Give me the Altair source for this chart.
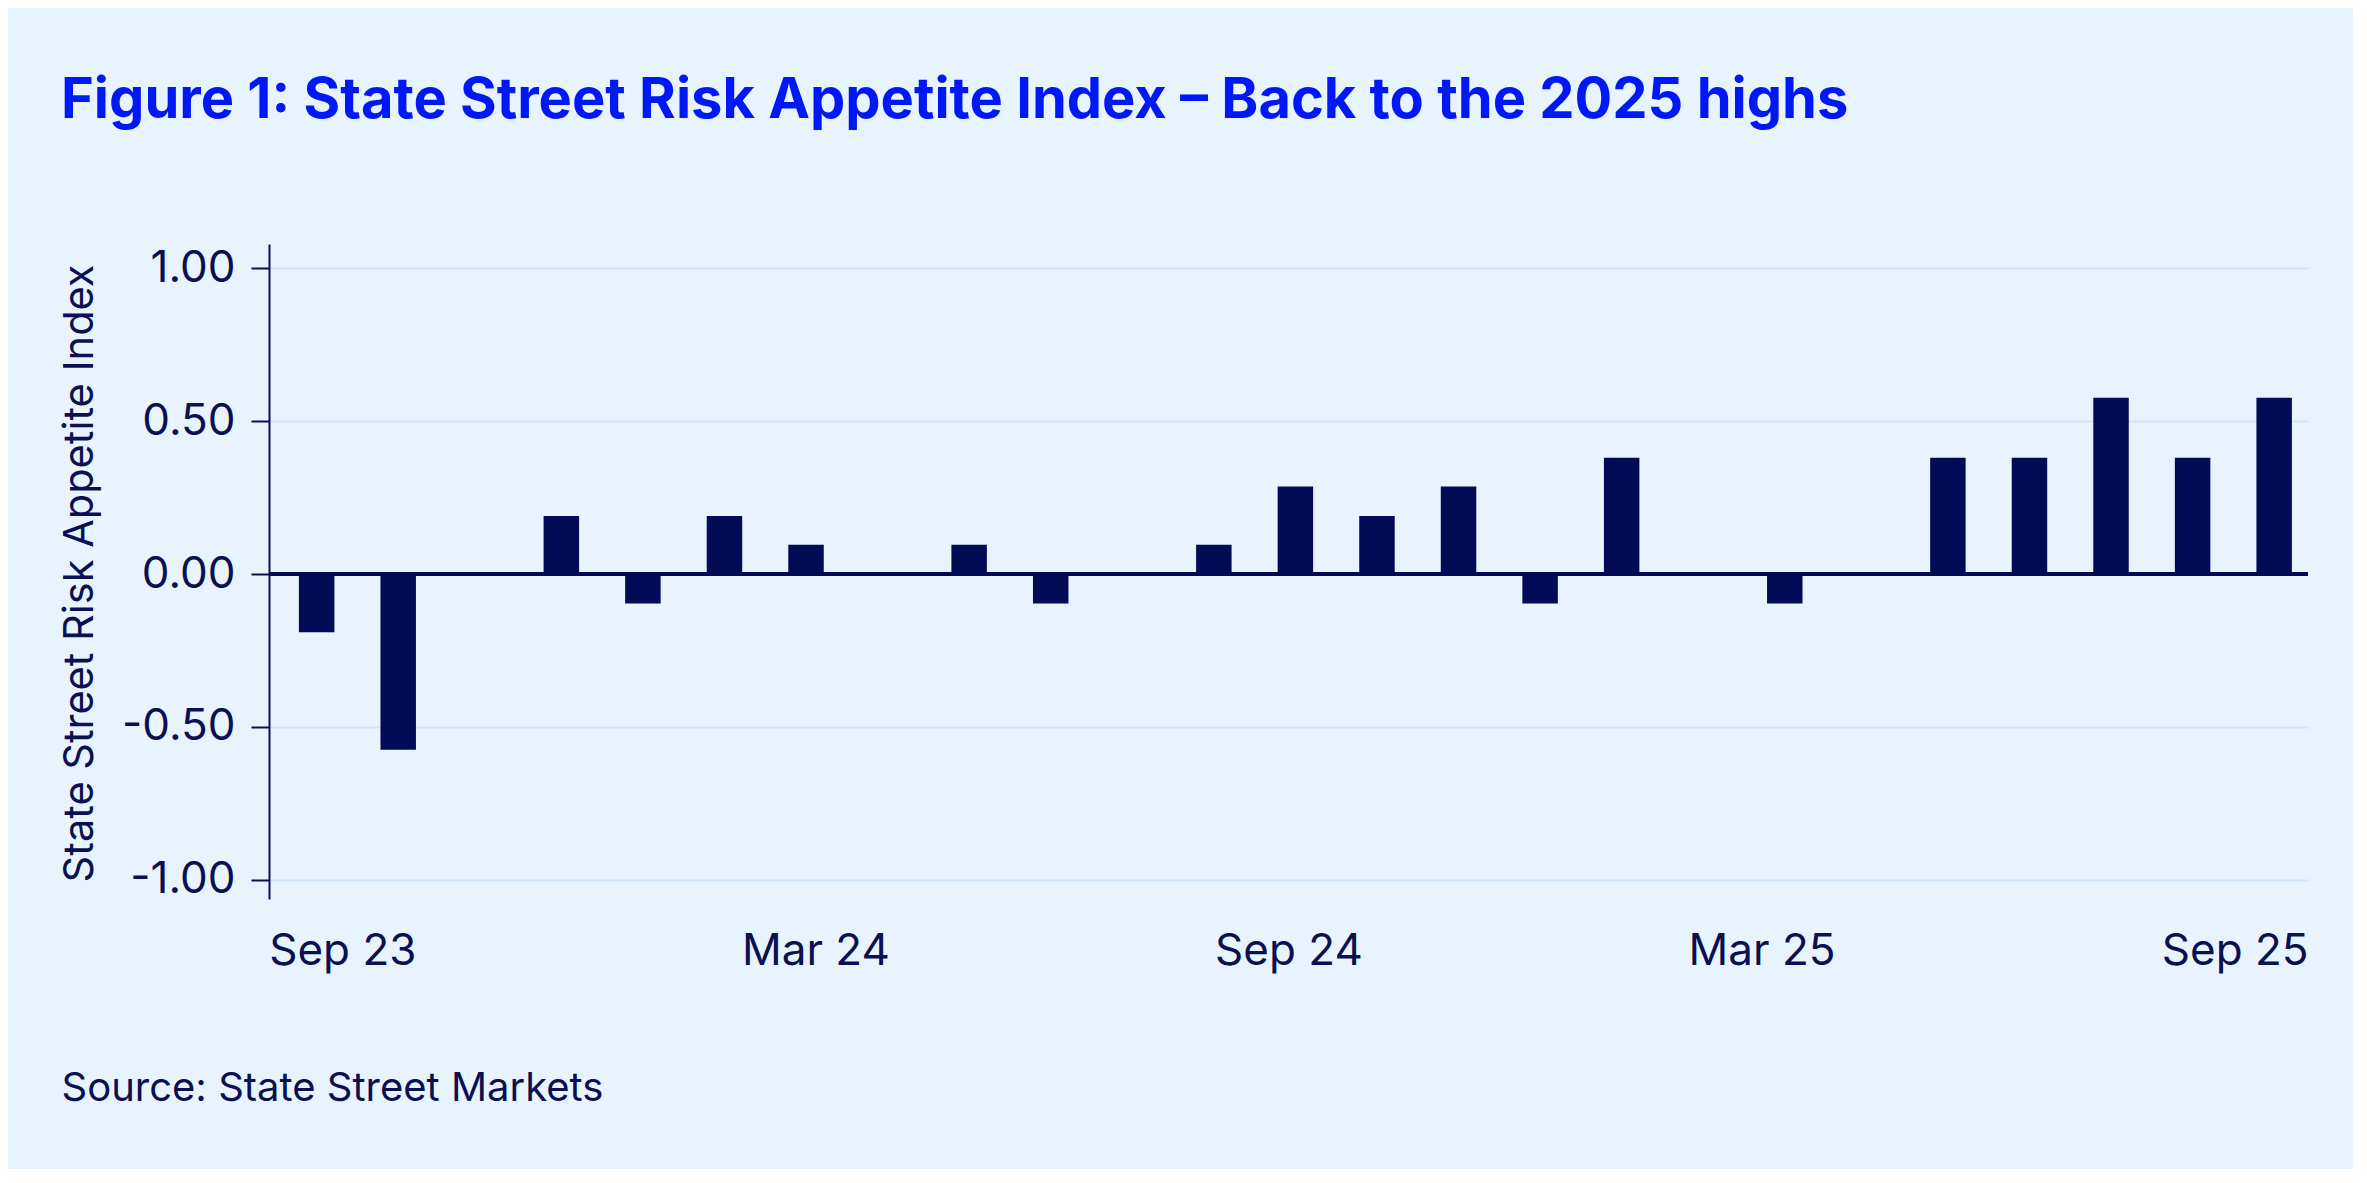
import altair as alt
import pandas as pd

# ---- data ----
months = ["Sep 23", "Oct 23", "Nov 23", "Dec 23", "Jan 24", "Feb 24", "Mar 24",
          "Apr 24", "May 24", "Jun 24", "Jul 24", "Aug 24", "Sep 24", "Oct 24",
          "Nov 24", "Dec 24", "Jan 25", "Feb 25", "Mar 25", "Apr 25", "May 25",
          "Jun 25", "Jul 25", "Aug 25", "Sep 25"]
values = [-0.19, -0.575, 0.0, 0.19, -0.096, 0.19, 0.096,
          0.0, 0.096, -0.096, 0.0, 0.096, 0.287, 0.19,
          0.287, -0.096, 0.381, 0.0, -0.096, 0.0, 0.381,
          0.381, 0.577, 0.381, 0.577]
tick_labels = ["Sep 23", "Mar 24", "Sep 24", "Mar 25", "Sep 25"]
y_ticks = [-1.0, -0.5, 0.0, 0.5, 1.0]

TITLE = "Figure 1: State Street Risk Appetite Index \u2013 Back to the 2025 highs"
Y_TITLE = "State Street Risk Appetite Index"
SOURCE = "Source: State Street Markets"

BG = "#e7f4fd"
NAVY = "#020b56"
TEXT = "#0a1052"
BLUE = "#0018f5"
GRID = "#cfe5f8"
FONT = "Inter"

df = pd.DataFrame({"month": months, "value": values})
lab = pd.DataFrame({"label": tick_labels})

bars = alt.Chart(df).mark_bar(color=NAVY).encode(
    x=alt.X("month:N", sort=months, axis=None,
            scale=alt.Scale(paddingInner=0.565, paddingOuter=0.282, align=0.65)),
    y=alt.Y("value:Q",
            scale=alt.Scale(domain=[-1.063, 1.08], nice=False, zero=False),
            axis=alt.Axis(values=y_ticks,
                          labelExpr="(datum.value < 0 ? '-' : '') + format(abs(datum.value), '.2f')",
                          title=Y_TITLE, titleFont=FONT, titleFontSize=41.5,
                          titleFontWeight="normal", titleColor=TEXT,
                          titleX=-177, titleY=329, titleBaseline="alphabetic",
                          labelFont=FONT, labelFontSize=44, labelColor=TEXT,
                          labelPadding=16,
                          tickSize=18, tickWidth=2, tickColor=TEXT,
                          domainColor=TEXT, domainWidth=2,
                          grid=True, gridColor=GRID, gridWidth=2)),
)

zero = alt.Chart(df).mark_rule(color=NAVY, strokeWidth=2.5).encode(y=alt.datum(0))

labels = alt.Chart(lab).mark_point(opacity=0).encode(
    x=alt.X("label:N", sort=tick_labels,
            scale=alt.Scale(type="point", padding=0.155),
            axis=alt.Axis(orient="bottom", ticks=False, domain=False, grid=False,
                          labelFont=FONT, labelFontSize=44, labelColor=TEXT,
                          labelPadding=30, labelAngle=0,
                          title=SOURCE, titleFont=FONT, titleFontSize=40,
                          titleFontWeight="normal", titleColor=TEXT,
                          titleX=-208, titleY=201, titleAlign="left",
                          titleBaseline="alphabetic")),
)

chart = alt.layer(bars, zero, labels).resolve_scale(x="independent").properties(
    width=2039, height=655, background=BG,
    padding={"left": 261, "top": 236, "right": 45, "bottom": 270},
    autosize=alt.AutoSizeParams(type="none"),
    title=alt.TitleParams(TITLE, font=FONT, fontSize=56, fontWeight="bold",
                          color=BLUE, anchor="start", frame="group",
                          dx=-208, offset=70, baseline="alphabetic"),
).configure_view(stroke=None)

chart.save("out.html", embed_options={"renderer": "svg", "actions": False})
